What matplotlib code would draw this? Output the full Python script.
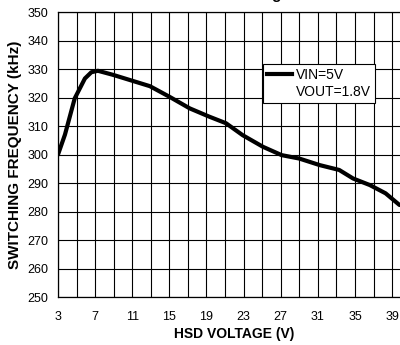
import matplotlib

matplotlib.use("Agg")
import matplotlib.pyplot as plt
from matplotlib.lines import Line2D

plt.rcParams["font.family"] = ["Liberation Sans", "DejaVu Sans"]

# switching frequency vs high-side supply voltage
hsd_volts = [3.0, 3.75, 4.8, 5.9, 6.6, 7.3, 8.9, 10.4, 12.9, 15.0, 17.2, 19.3,
             21.1, 22.9, 25.1, 27.1, 29.0, 31.2, 33.3, 34.8, 36.6, 38.3, 39.8]
freq_khz = [300.0, 307.0, 319.7, 326.7, 328.9, 329.4, 328.0, 326.5, 324.0, 320.3,
            316.2, 313.3, 311.0, 306.8, 302.7, 299.8, 298.6, 296.3, 294.6, 291.6,
            289.3, 286.4, 282.3]
xtick_vals = list(range(3, 40, 4))
ytick_vals = list(range(250, 351, 10))
legend_labels = ["VIN=5V", "VOUT=1.8V"]

fig = plt.figure(figsize=(4.0, 3.45), dpi=100)
ax = fig.add_axes([0.145, 0.139, 0.8816, 0.826])

ax.plot(hsd_volts, freq_khz, color="black", lw=3, solid_capstyle="round", zorder=3)

ax.set_xlim(3, 41)
ax.set_ylim(250, 350)
ax.set_xticks(xtick_vals)
ax.set_xticks(list(range(3, 42, 2)), minor=True)
ax.set_yticks(ytick_vals)
ax.grid(which="both", color="black", lw=0.8)
ax.tick_params(which="both", length=0, labelsize=9)
ax.tick_params(axis="x", pad=10)
ax.tick_params(axis="y", pad=7)
for s in ax.spines.values():
    s.set_linewidth(0.9)

ax.set_xlabel("HSD VOLTAGE (V)", fontsize=10, fontweight="bold", labelpad=3)
ax.set_ylabel("SWITCHING FREQUENCY (kHz)", fontsize=11, fontweight="bold", labelpad=4)

handles = [Line2D([], [], color="black", lw=3),
           Line2D([], [], color="none")]
leg = ax.legend(handles, legend_labels, loc="upper left",
                bbox_to_anchor=(0.581, 0.818), borderaxespad=0,
                fontsize=10, handlelength=1.8, handletextpad=0.3,
                borderpad=0.3, labelspacing=0.2, fancybox=False,
                framealpha=1, edgecolor="black")
leg.get_frame().set_linewidth(0.8)

# title sits mostly above the canvas
fig.text(0.705, 1.003, "Switching", ha="right", va="baseline",
         fontsize=11, fontweight="bold")

fig.savefig("out.png", dpi=100)
